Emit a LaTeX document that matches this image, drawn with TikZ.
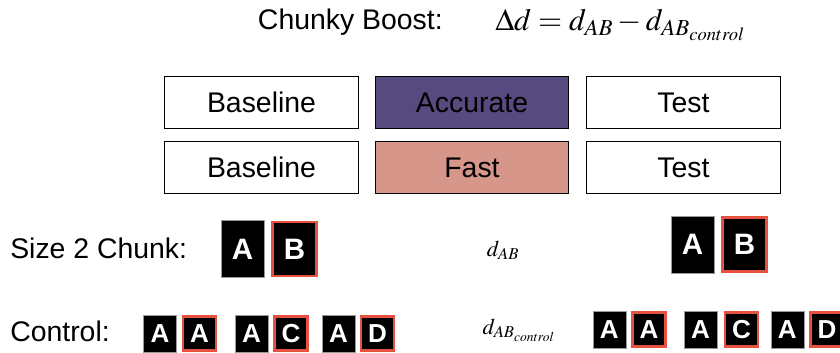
\documentclass[tikz,border=0pt]{standalone}
\usepackage{mathptmx}
\usepackage{fontspec}
\setmainfont{Liberation Sans}
\usetikzlibrary{positioning}

\definecolor{accpurple}{HTML}{574A7E}
\definecolor{fastpink}{HTML}{D6968A}
\definecolor{cuered}{HTML}{E8503F}

\newcommand{\bigtxt}{\fontsize{20.2}{22}\selectfont}

\begin{document}
\begin{tikzpicture}[
    x=0.025cm, y=-0.025cm,
    stage/.style={rectangle, draw, line width=0.7pt, minimum width=4.825cm, minimum height=1.275cm, text centered, font=\bigtxt},
    item/.style={rectangle, fill=black, draw=black!40, line width=0.4pt, text=white, minimum width=1.075cm, minimum height=1.425cm, inner sep=0pt, font=\fontsize{21}{22}\selectfont\bfseries},
    cue/.style={item, draw=cuered, line width=2pt, minimum width=1.1cm, minimum height=1.35cm},
    smallitem/.style={item, minimum width=0.825cm, minimum height=0.925cm, font=\fontsize{18.5}{20}\selectfont\bfseries},
    smallcue/.style={smallitem, draw=cuered, line width=2pt, minimum width=0.825cm, minimum height=0.85cm},
    label/.style={font=\bigtxt, anchor=west, inner sep=0pt}
]
\useasboundingbox (0,0) rectangle (840,353);

% Title
\node[font=\bigtxt, anchor=east, inner sep=0pt] (title) at (443,22) {Chunky Boost:};
\node[font=\fontsize{22}{24}\selectfont, anchor=west, inner sep=0pt] (boost) at (495,25) {$\Delta d = d_{AB} - d_{AB_{control}}$};

% Trial sequences
\node[stage] (base1) at (261.5,102.5) {Baseline};
\node[stage, fill=accpurple] (acc) at (472,102.5) {Accurate};
\node[stage] (test1) at (683.5,102.5) {Test};

\node[stage] (base2) at (261.5,167.5) {Baseline};
\node[stage, fill=fastpink] (fast) at (472,167.5) {Fast};
\node[stage] (test2) at (683.5,167.5) {Test};

% Chunk pairs
\node[label] (chunk) at (10,248) {Size 2 Chunk:};
\node[item] (ca) at (242.5,249) {A};
\node[cue] (cb) at (294.5,249) {B};

\node[font=\fontsize{16}{17}\selectfont] (dab) at (503,250) {$d_{AB}$};
\node[item] (ta) at (692.5,244.5) {A};
\node[cue] (tb) at (744.5,244.5) {B};

% Control pairs
\node[label] (control) at (10,331) {Control:};
\node[smallitem] (k1) at (160,333.5) {A};
\node[smallcue] (k2) at (199.5,333.5) {A};
\node[smallitem] (k3) at (251.5,333.5) {A};
\node[smallcue] (k4) at (291,333.5) {C};
\node[smallitem] (k5) at (338.5,333.5) {A};
\node[smallcue] (k6) at (377.5,333.5) {D};

\node[font=\fontsize{16}{17}\selectfont] (dctl) at (519,330) {$d_{AB_{control}}$};
\node[smallitem] (m1) at (609.3,329.5) {A};
\node[smallcue] (m2) at (649,329.5) {A};
\node[smallitem] (m3) at (700.5,329.5) {A};
\node[smallcue] (m4) at (741.5,329.5) {C};
\node[smallitem] (m5) at (787.3,329.5) {A};
\node[smallcue] (m6) at (827,329.5) {D};

\end{tikzpicture}
\end{document}
